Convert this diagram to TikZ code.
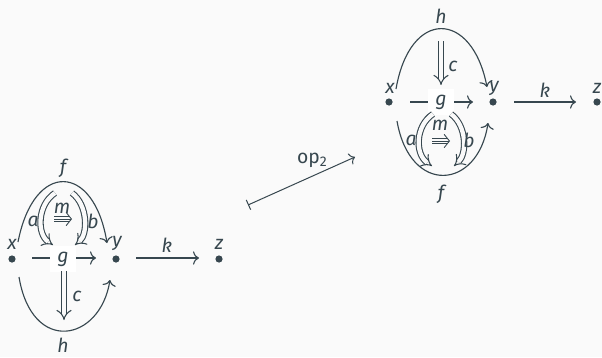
\documentclass[tikz,border=0pt]{standalone}
\usepackage{fontspec}
\setmainfont{Fira Sans}
\usetikzlibrary{arrows.meta}
\definecolor{ink}{RGB}{55,71,79}
\definecolor{bgc}{RGB}{250,250,250}
\begin{document}
\begin{tikzpicture}[x=0.75pt,y=-0.75pt,
  lbl/.style={text=ink, font=\fontsize{14.5}{16}\selectfont\itshape, inner sep=0pt},
  gbox/.style={lbl, fill=white, minimum width=19pt, minimum height=19pt},
  dot/.style={circle, fill=ink, inner sep=0pt, minimum size=5.4pt},
  onearr/.style={draw=ink, line width=0.85pt, -{To[length=4.5pt,width=10pt]}},
  twoarr/.style={draw=ink, line width=0.8pt, double=bgc, double distance=3.2pt, -{Implies}},
  curvearr/.style={draw=ink, line width=0.85pt, -{To[length=4.5pt,width=10pt]}},
  triline/.style={draw=ink, line width=0.65pt, double=bgc, double distance=2.8pt, shorten >=2.5pt},
  trimid/.style={draw=ink, line width=0.65pt, -{Straight Barb[length=4pt,width=10pt]}},
  oparr/.style={draw=ink, line width=0.75pt, {Bar[width=8pt]}-{To[length=4pt,width=9pt]}}
]
\fill[bgc] (0,0) rectangle (602,357);
\useasboundingbox (0,0) rectangle (602,357);

% ---------- left diagram ----------
\node[dot] (Lx) at (12,259) {};
\node[dot] (Ly) at (116,259) {};
\node[dot] (Lz) at (219,259) {};
\node[lbl] (Lxl) at (12,244) {x};
\node[lbl] (Lyl) at (117,243) {y};
\node[lbl] (Lzl) at (219,244) {z};
\node[lbl] (Lkl) at (167,245) {k};

\coordinate (Lg1) at (32,258);
\coordinate (Lg2) at (96,258);
\draw[onearr] (Lg1) -- (Lg2);
\node[gbox] (Lg) at (63,259) {g};

\coordinate (Lk1) at (136,258);
\coordinate (Lk2) at (199,258);
\draw[onearr] (Lk1) -- (Lk2);

\coordinate (Lf1) at (18,242);
\coordinate (Lf2) at (107,243);
\draw[curvearr] (Lf1) .. controls (34,160) and (94,163) .. (Lf2);
\node[lbl] (Lfl) at (63,168) {f};

\coordinate (Lh1) at (19,277);
\coordinate (Lh2) at (110,280);
\draw[curvearr] (Lh1) .. controls (32,355) and (100,342) .. (Lh2);
\node[lbl] (Lhl) at (63,345) {h};

\coordinate (Lc1) at (64,271);
\coordinate (Lc2) at (64,320);
\draw[twoarr] (Lc1) -- (Lc2);
\node[lbl] (Lcl) at (77,296) {c};

\coordinate (La1) at (55,193);
\coordinate (La2) at (53,245);
\draw[twoarr] (La1) .. controls (37,205) and (37,234) .. (La2);
\node[lbl] (Lal) at (33,221) {a};

\coordinate (Lb1) at (72,193);
\coordinate (Lb2) at (75,245);
\draw[twoarr] (Lb1) .. controls (88,205) and (88,234) .. (Lb2);
\node[lbl] (Lbl) at (93,221) {b};

\coordinate (Lm1) at (54,219);
\coordinate (Lm2) at (72,219);
\draw[triline] (Lm1) -- (Lm2);
\draw[trimid] (Lm1) -- (Lm2);
\node[lbl] (Lml) at (62,208) {m};

% ---------- op2 arrow ----------
\coordinate (op1) at (248,205);
\coordinate (op2) at (355,157);
\draw[oparr] (op1) -- (op2);
\node[text=ink, font=\fontsize{14.5}{16}\selectfont, inner sep=0pt] (opl) at (312,160) {op\raisebox{-0.35ex}{\fontsize{10.5}{12}\selectfont 2}};

% ---------- right diagram ----------
\node[dot] (Rx) at (389,102) {};
\node[dot] (Ry) at (493,102) {};
\node[dot] (Rz) at (597,102) {};
\node[lbl] (Rxl) at (390,88) {x};
\node[lbl] (Ryl) at (494,88) {y};
\node[lbl] (Rzl) at (597,88) {z};
\node[lbl] (Rkl) at (545,90) {k};

\coordinate (Rg1) at (410,102);
\coordinate (Rg2) at (473,102);
\draw[onearr] (Rg1) -- (Rg2);
\node[gbox] (Rg) at (441,102) {g};

\coordinate (Rk1) at (514,102);
\coordinate (Rk2) at (576,102);
\draw[onearr] (Rk1) -- (Rk2);

\coordinate (Rh1) at (396,89);
\coordinate (Rh2) at (487,87);
\draw[curvearr] (Rh1) .. controls (410,8) and (472,10) .. (Rh2);
\node[lbl] (Rhl) at (441,16) {h};

\coordinate (Rf1) at (397,121);
\coordinate (Rf2) at (488,123);
\draw[curvearr] (Rf1) .. controls (410,196) and (478,190) .. (Rf2);
\node[lbl] (Rfl) at (441,194) {f};

\coordinate (Rc1) at (441,41);
\coordinate (Rc2) at (441,85);
\draw[twoarr] (Rc1) -- (Rc2);
\node[lbl] (Rcl) at (453,66) {c};

\coordinate (Ra1) at (433,114);
\coordinate (Ra2) at (432,166);
\draw[twoarr] (Ra1) .. controls (415,126) and (415,154) .. (Ra2);
\node[lbl] (Ral) at (411,140) {a};

\coordinate (Rb1) at (451,114);
\coordinate (Rb2) at (454,166);
\draw[twoarr] (Rb1) .. controls (467,126) and (467,154) .. (Rb2);
\node[lbl] (Rbl) at (469,140) {b};

\coordinate (Rm1) at (432,141);
\coordinate (Rm2) at (450,141);
\draw[triline] (Rm1) -- (Rm2);
\draw[trimid] (Rm1) -- (Rm2);
\node[lbl] (Rml) at (440,125) {m};
\end{tikzpicture}
\end{document}
